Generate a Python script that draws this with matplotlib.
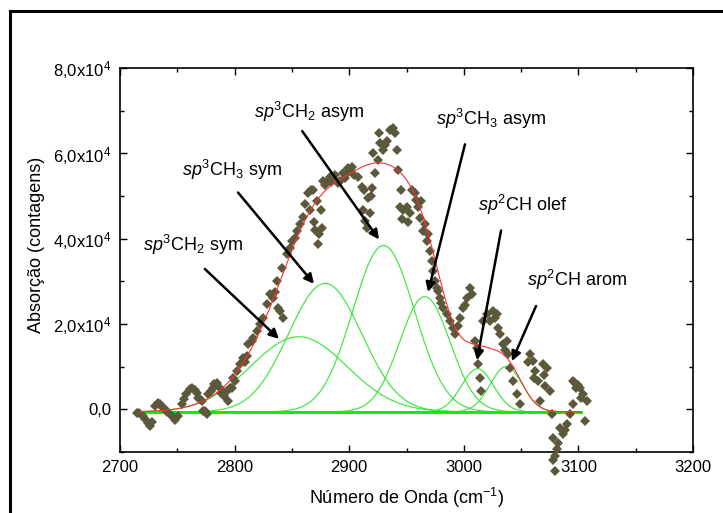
import numpy as np
import matplotlib.pyplot as plt
from matplotlib.patches import Rectangle

plt.rcParams['font.family'] = ['Liberation Sans', 'DejaVu Sans']
plt.rcParams['mathtext.fontset'] = 'custom'
plt.rcParams['mathtext.rm'] = 'Liberation Sans'
plt.rcParams['mathtext.it'] = 'Liberation Sans:italic'

# measured spectrum (wavenumber, counts / 1000)
wn = [2715, 2717, 2720, 2722, 2724, 2726, 2728, 2730.5, 2733, 2735, 2737, 2739, 2741, 2744,
      2746, 2748, 2751, 2754, 2756, 2758, 2761, 2763, 2765, 2767, 2768, 2770, 2771.5, 2772.5,
      2774, 2776, 2777, 2779, 2781, 2782, 2784.6, 2787, 2788, 2790, 2790.5, 2793, 2794, 2796,
      2798, 2799, 2800, 2802, 2805, 2807, 2809, 2811, 2812, 2815, 2816, 2819.5, 2822, 2825,
      2828, 2831, 2833.5, 2835, 2837, 2837.5, 2839.6, 2841, 2842, 2845.7, 2848, 2850, 2852.7,
      2854.5, 2857, 2859.7, 2861, 2864, 2866, 2866.5, 2868, 2869, 2870, 2872, 2873, 2874, 2875,
      2876, 2877, 2879, 2880.6, 2883, 2884, 2886, 2888, 2890, 2892, 2894.6, 2896, 2898, 2899,
      2900.7, 2902, 2904, 2907.7, 2911, 2912, 2913, 2914, 2915.5, 2916, 2918, 2919, 2920, 2921,
      2922.5, 2925, 2926, 2927, 2929.5, 2931, 2933, 2935.6, 2938, 2940, 2941.7, 2943, 2944, 2945,
      2946, 2947, 2950, 2951, 2953, 2955, 2957, 2958, 2960, 2962, 2963, 2964, 2966, 2968, 2969,
      2970.5, 2972, 2973, 2975, 2976.6, 2977.5, 2979, 2980, 2982, 2985, 2988, 2990.6, 2992, 2995,
      2997, 2999, 3001, 3003, 3005, 3007, 3010, 3011.5, 3012.6, 3014, 3015, 3017, 3020, 3023,
      3025.5, 3027, 3029, 3030, 3031.6, 3034, 3036, 3037.7, 3038.6, 3040, 3043, 3046, 3049, 3056,
      3058, 3060, 3061, 3062, 3065, 3066.5, 3069, 3070, 3071, 3072.6, 3075, 3077, 3077.5, 3078,
      3079.6, 3080, 3081, 3082, 3084, 3086.6, 3088, 3090, 3093, 3095, 3095.5, 3097, 3098, 3100,
      3101, 3102, 3104, 3106, 3107.5]
counts = [-0.9, -0.9, -1.6, -2.2, -3.3, -4.0, -3.0, 0.7, 1.5, 1.2, 0.6, 0.0, -0.6, -1.2,
          -1.8, -2.4, -1.6, 1.2, 2.4, 3.5, 4.7, 4.9, 4.5, 3.8, 2.6, 2.3, 1.9, -0.5,
          -0.5, -1.2, 3.5, 4.3, 4.9, 5.9, 6.1, 4.9, 3.9, 3.5, 3.1, 4.2, 1.9, 4.9,
          4.9, 7.3, 6.6, 8.9, 10.6, 12.0, 11.0, 12.5, 15.3, 16.0, 16.7, 18.4, 20.0, 21.4,
          24.7, 27.0, 26.1, 27.5, 30.1, 23.8, 23.0, 33.2, 21.4, 36.5, 37.9, 39.5, 40.2,
          41.9, 43.5, 45.0, 48.2, 50.6, 46.6, 51.3, 51.3, 44.0, 42.0, 48.9, 38.8, 41.2, 46.6,
          42.6, 53.6, 52.5, 53.6, 54.4, 53.2, 54.4, 55.0, 53.0, 53.6, 55.3, 54.2, 55.3, 56.5,
          56.0, 56.8, 55.0, 54.4, 52.0, 46.6, 51.3, 44.2, 42.6, 49.6, 45.9, 50.0, 51.8, 60.0,
          55.3, 58.4, 64.7, 62.4, 60.7, 62.0, 63.0, 65.4, 65.9, 64.7, 60.7, 56.0, 47.3, 51.3,
          44.5, 46.6, 47.3, 44.0, 45.9, 51.3, 50.6, 49.0, 47.3, 44.9, 48.9, 41.9, 43.5, 39.5, 41.0,
          37.2, 34.8, 32.5, 30.1, 28.5, 27.7, 26.1, 25.0, 23.8, 22.3, 20.7, 19.0, 17.6, 19.5,
          21.4, 23.8, 24.5, 26.1, 28.5, 27.0, 16.0, 14.4, 10.6, 7.3, 4.2, 20.7, 22.3, 20.7,
          23.0, 21.5, 22.3, 19.0, 17.6, 15.3, 14.0, 16.0, 12.9, 9.6, 6.6, 3.5, 1.2, 11.0,
          12.9, 11.3, 7.3, 8.9, 6.6, 1.9, 10.6, 8.0, 5.4, 9.6, 4.2, -1.2, -6.8, -12.0,
          -11.0, -14.5, -9.2, -8.0, -4.5, -5.9, -4.8, -3.5, -1.2, 1.2, 6.6, 6.1, 4.9, 5.8,
          4.9, 2.6, 3.5, -2.8, 1.9]

# fitted gaussian components: center, height (counts/1000), sigma
centers = [2856, 2879, 2930, 2966, 3012, 3037]
heights = [17.6, 30.1, 39.0, 27.0, 10.1, 10.6]
sigmas = [42, 32, 27, 22, 14, 14]
baseline = -0.6

labels = [r'$sp^3$CH$_2$ sym', r'$sp^3$CH$_3$ sym', r'$sp^3$CH$_2$ asym',
          r'$sp^3$CH$_3$ asym', r'$sp^2$CH olef', r'$sp^2$CH arom']
text_pos = [(2720, 38.6), (2754, 56.2), (2817, 69.8), (2976, 68.0), (3012, 48.0), (3055, 30.4)]
arrow_from = [(2774, 32.9), (2803, 50.8), (2859, 65.2), (3001, 62.1), (3032.5, 41.9), (3063, 24.2)]
arrow_to = [(2838.7, 16.5), (2869.3, 29.4), (2926, 39.8), (2968.8, 27.5), (3011.5, 11.5), (3042, 11.3)]

fig = plt.figure(figsize=(7.23, 5.13), dpi=100)
ax = fig.add_axes([0.166, 0.119, 0.7925, 0.7485])

x = np.linspace(2718, 3102, 600)
total = np.full_like(x, baseline)
for c, h, s in zip(centers, heights, sigmas):
    g = h * np.exp(-(x - c) ** 2 / (2 * s ** 2))
    total += g
    ax.plot(x, (baseline + g) * 1000, color='#33e633', lw=0.8, zorder=2)
ax.plot([2718, 3102], [baseline * 1000] * 2, color='#00ee00', lw=2.0, zorder=2)

ax.plot(wn, np.array(counts) * 1000, 'D', color='#5c583b', markersize=5.4,
        markeredgewidth=0, clip_on=False, zorder=3)
ax.plot(x, total * 1000, color='#ff3030', lw=0.8, zorder=4)

for lab, tp, a0, a1 in zip(labels, text_pos, arrow_from, arrow_to):
    ax.text(tp[0], tp[1] * 1000, lab, fontsize=13, ha='left', va='center')
    ax.annotate('', xy=(a1[0], a1[1] * 1000), xytext=(a0[0], a0[1] * 1000),
                arrowprops=dict(arrowstyle='-|>', color='black', lw=1.8,
                                mutation_scale=14, shrinkA=0, shrinkB=0), zorder=5)

ax.set_xlim(2700, 3200)
ax.set_ylim(-1e4, 8e4)
ax.set_xticks([2700, 2800, 2900, 3000, 3100, 3200])
ax.set_xticks(np.arange(2750, 3200, 100), minor=True)
ax.set_yticks([0, 2e4, 4e4, 6e4, 8e4])
ax.set_yticks([-1e4, 1e4, 3e4, 5e4, 7e4], minor=True)
ax.set_yticklabels(['0,0', r'2,0x10$^4$', r'4,0x10$^4$', r'6,0x10$^4$', r'8,0x10$^4$'])
ax.tick_params(which='both', direction='in', top=True, right=True, labelsize=12, width=1)
ax.tick_params(which='major', length=5, pad=6)
ax.tick_params(which='minor', length=3)
for sp in ax.spines.values():
    sp.set_linewidth(1.2)

ax.set_xlabel(r'Número de Onda (cm$^{-1}$)', fontsize=13, labelpad=8)
ax.set_ylabel('Absorção (contagens)', fontsize=13)
ax.yaxis.set_label_coords(-0.131, 0.54)

fig.patches.append(Rectangle((10 / 723, -0.2), 1.2, 1.2 - 11 / 513, transform=fig.transFigure,
                             fill=False, lw=2.2, edgecolor='black'))

fig.savefig('out.png', dpi=100)
